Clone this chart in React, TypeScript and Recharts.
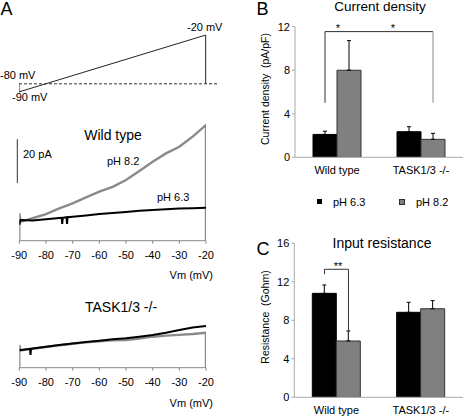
import React from "react";
import {
  LineChart,
  Line,
  BarChart,
  Bar,
  ErrorBar,
  XAxis,
  YAxis,
  ReferenceLine,
} from "recharts";

// voltage protocol (holding -80, step to -90, ramp to -20, back to -80)
const protoTime = [-90, -90, -20, -20];
const protoVolt = [-80, -90, -20, -80];

// wild type ramp currents (pA) vs Vm (mV)
const wtPh82Vm = [-90, -90, -89.5, -85, -80, -75, -70, -65, -60, -55, -50, -45, -40, -35, -30, -25, -20, -20];
const wtPh82 = [0, 12.5, 8.6, 10.2, 12.1, 14.7, 17.0, 19.7, 22.3, 24.5, 27.6, 31.7, 35.9, 39.7, 42.7, 47.3, 52.6, 0];
const wtPh63Vm = [-90, -89.6, -85, -80, -75, -74.1, -73.9, -73.7, -72.3, -72.1, -71.9, -70, -65, -60, -55, -50, -45, -40, -35, -30, -25, -20];
const wtPh63 = [7.2, 9.4, 9.2, 9.7, 10.3, 10.4, 7.6, 10.4, 10.7, 7.6, 10.7, 10.9, 11.5, 12.1, 12.6, 13.1, 13.6, 14.0, 14.3, 14.6, 14.8, 15.0];

// TASK1/3 -/- ramp currents
const taskPh82Vm = [-90, -90, -89.5, -85, -80, -75, -70, -65, -60, -55, -50, -45, -40, -35, -30, -25, -20, -20];
const taskPh82 = [0, 10.3, 7.9, 8.6, 9.4, 10.2, 10.9, 11.5, 12.0, 12.4, 12.6, 13.3, 14.1, 14.6, 14.9, 15.3, 15.9, 0];
const taskPh63Vm = [-90, -86, -85.8, -85.6, -85, -80, -75, -70, -65, -60, -55, -50, -45, -40, -35, -30, -25, -20];
const taskPh63 = [7.9, 8.6, 5.8, 8.6, 8.7, 9.5, 10.3, 11.0, 11.7, 12.3, 12.9, 13.4, 14.1, 14.9, 15.9, 17.1, 18.3, 19.0];

const vmTicks = [-90, -80, -70, -60, -50, -40, -30, -20];

// bar panels
const groups = ["Wild type", "TASK1/3 -/-"];
const seriesNames = ["pH 6.3", "pH 8.2"];
const densityPh63 = [2.1, 2.35];
const densityPh63Err = [0.3, 0.46];
const densityPh82 = [8.0, 1.65];
const densityPh82Err = [2.72, 0.55];
const resistPh63 = [10.8, 8.83];
const resistPh63Err = [0.87, 1.04];
const resistPh82 = [5.85, 9.2];
const resistPh82Err = [1.04, 0.84];
const densityTicks = [0, 4, 8, 12];
const resistTicks = [0, 4, 8, 12, 16];

const FONT = "'Liberation Sans', Arial, sans-serif";
const GREY = "#8a8a8a";
const BAR = 24;

const zip = (xs: number[], ys: number[]) => xs.map((vm, k) => ({ vm, i: ys[k] }));

const barTable = (a: number[], ae: number[], b: number[], be: number[]) =>
  groups.map((name, k) => ({
    name,
    ph63: a[k],
    ph63Err: [0, ae[k]],
    ph82: b[k],
    ph82Err: [0, be[k]],
  }));

// significance bracket from a reference segment: leg at one bar, across the top, leg at the other
const bracket = (dx1: number, dx2: number, stroke = "#333") => (p: any) => {
  const top = Math.min(p.y1, p.y2);
  const a = p.x1 + dx1;
  const b = p.x2 + dx2;
  return (
    <path
      d={`M${a},${p.y1} L${a},${top} L${b},${top} L${b},${p.y2}`}
      stroke={stroke}
      strokeWidth={1}
      fill="none"
    />
  );
};

function Txt({ x, y, size = 11, anchor = "start", lh = 1, children }: any) {
  const tx = anchor === "middle" ? "-50%" : anchor === "end" ? "-100%" : "0";
  return (
    <div
      style={{
        position: "absolute",
        left: x,
        top: y,
        fontSize: size,
        lineHeight: lh,
        color: "#000",
        whiteSpace: "nowrap",
        transform: `translate(${tx}, -50%)`,
      }}
    >
      {children}
    </div>
  );
}

function VLabel({ x, y, children }: any) {
  return (
    <div
      style={{
        position: "absolute",
        left: x,
        top: y,
        fontSize: 10.5,
        lineHeight: 1,
        color: "#000",
        whiteSpace: "pre",
        transform: "translate(-50%, -50%) rotate(-90deg)",
      }}
    >
      {children}
    </div>
  );
}

function Box({ x, y, children }: any) {
  return <div style={{ position: "absolute", left: x, top: y }}>{children}</div>;
}

const traceAxis = {
  type: "number" as const,
  dataKey: "vm",
  domain: [-90, -20],
  ticks: vmTicks,
  interval: 0,
  allowDataOverflow: true,
  tick: { fontSize: 11, fill: "#000" },
  stroke: "#888",
  tickSize: 3,
  tickMargin: 7,
  height: 25,
};

const barXAxis = {
  dataKey: "name",
  tick: { fontSize: 11, fill: "#000" },
  tickLine: false,
  stroke: "#aaa",
  tickSize: 6,
  tickMargin: 3,
};

export default function App() {
  const density = barTable(densityPh63, densityPh63Err, densityPh82, densityPh82Err);
  const resist = barTable(resistPh63, resistPh63Err, resistPh82, resistPh82Err);

  return (
    <div
      style={{
        position: "absolute",
        left: 0,
        top: 0,
        width: 464,
        height: 416,
        background: "#fff",
        fontFamily: FONT,
        color: "#000",
        overflow: "hidden",
      }}
    >
      {/* A: voltage protocol */}
      <Box x={0} y={20}>
        <LineChart width={240} height={90} data={zip(protoTime, protoVolt)} margin={{ top: 11, right: 21, bottom: 14, left: 19 }}>
          <XAxis type="number" dataKey="vm" domain={[-90, -15]} allowDataOverflow hide />
          <YAxis type="number" domain={[-95, -15]} allowDataOverflow hide />
          <ReferenceLine y={-80} stroke="#333" strokeDasharray="3 2" />
          <Line dataKey="i" stroke="#222" strokeWidth={1} dot={false} isAnimationActive={false} />
        </LineChart>
      </Box>

      {/* A: wild type ramp */}
      <Box x={0} y={110}>
        <LineChart width={240} height={160} margin={{ top: 9.7, right: 34, bottom: 4.3, left: 19.3 }}>
          <XAxis {...traceAxis} />
          <YAxis type="number" domain={[0, 55]} allowDataOverflow hide />
          <ReferenceLine
            segment={[{ x: -90.75, y: 26.2 }, { x: -90.75, y: 46.2 }]}
            ifOverflow="visible"
            stroke="#333"
          />
          <Line data={zip(wtPh82Vm, wtPh82)} dataKey="i" stroke={GREY} strokeWidth={2.4} dot={false} isAnimationActive={false} />
          <Line data={zip(wtPh63Vm, wtPh63)} dataKey="i" stroke="#000" strokeWidth={2} dot={false} isAnimationActive={false} />
        </LineChart>
      </Box>

      {/* A: TASK1/3 -/- ramp */}
      <Box x={0} y={290}>
        <LineChart width={240} height={126} margin={{ top: 22.7, right: 34, bottom: 23.3, left: 19.3 }}>
          <XAxis {...traceAxis} />
          <YAxis type="number" domain={[0, 25]} allowDataOverflow hide />
          <Line data={zip(taskPh82Vm, taskPh82)} dataKey="i" stroke={GREY} strokeWidth={2.4} dot={false} isAnimationActive={false} />
          <Line data={zip(taskPh63Vm, taskPh63)} dataKey="i" stroke="#000" strokeWidth={2} dot={false} isAnimationActive={false} />
        </LineChart>
      </Box>

      {/* B: current density */}
      <Box x={240} y={0}>
        <BarChart width={224} height={200} data={density} barSize={BAR} barGap={0} margin={{ top: 26.7, right: 1, bottom: 12.7, left: 0 }}>
          <XAxis {...barXAxis} height={30} />
          <YAxis
            width={55}
            domain={[0, 12]}
            ticks={densityTicks}
            interval={0}
            allowDataOverflow
            tick={{ fontSize: 11, fill: "#000" }}
            stroke="#aaa"
            tickSize={3}
            tickMargin={2}
          />
          <Bar dataKey="ph63" fill="#000" stroke="#000" isAnimationActive={false}>
            <ErrorBar dataKey="ph63Err" width={2} stroke="#000" strokeWidth={1} />
          </Bar>
          <Bar dataKey="ph82" fill="#808080" stroke="#333" isAnimationActive={false}>
            <ErrorBar dataKey="ph82Err" width={2} stroke="#000" strokeWidth={1} />
          </Bar>
          <ReferenceLine segment={[{ x: groups[0], y: 5 }, { x: groups[1], y: 11.55 }]} shape={bracket(-BAR / 2, BAR / 2)} />
          <ReferenceLine segment={[{ x: groups[1], y: 11.55 }, { x: groups[1], y: 5 }]} shape={bracket(BAR / 2, BAR / 2, "#888")} />
        </BarChart>
      </Box>

      {/* C: input resistance */}
      <Box x={240} y={230}>
        <BarChart width={224} height={186} data={resist} barSize={BAR} barGap={0} margin={{ top: 13.3, right: 1, bottom: 0, left: 0 }}>
          <XAxis {...barXAxis} height={18.7} />
          <YAxis
            width={54.3}
            domain={[0, 16]}
            ticks={resistTicks}
            interval={0}
            allowDataOverflow
            tick={{ fontSize: 11, fill: "#000" }}
            stroke="#aaa"
            tickSize={3}
            tickMargin={2}
          />
          <Bar dataKey="ph63" fill="#000" stroke="#000" isAnimationActive={false}>
            <ErrorBar dataKey="ph63Err" width={2} stroke="#000" strokeWidth={1} />
          </Bar>
          <Bar dataKey="ph82" fill="#808080" stroke="#333" isAnimationActive={false}>
            <ErrorBar dataKey="ph82Err" width={2} stroke="#000" strokeWidth={1} />
          </Bar>
          <ReferenceLine segment={[{ x: groups[0], y: 12.8 }, { x: groups[0], y: 13.3 }]} shape={bracket(-BAR / 2, -BAR / 2)} />
          <ReferenceLine segment={[{ x: groups[0], y: 13.3 }, { x: groups[0], y: 6.9 }]} shape={bracket(-BAR / 2, BAR / 2)} />
        </BarChart>
      </Box>

      {/* panel letters and annotations */}
      <Txt x={0.5} y={8.5} size={18}>A</Txt>
      <Txt x={0} y={75}>-80 mV</Txt>
      <Txt x={187} y={27}>-20 mV</Txt>
      <Txt x={12} y={97}>-90 mV</Txt>
      <Txt x={113} y={135} size={14} anchor="middle">Wild type</Txt>
      <Txt x={23} y={153.5}>20 pA</Txt>
      <Txt x={107} y={160.5}>pH 8.2</Txt>
      <Txt x={157} y={196.5}>pH 6.3</Txt>
      <Txt x={213} y={275} anchor="end">Vm (mV)</Txt>
      <Txt x={121} y={307} size={14} anchor="middle">TASK1/3 -/-</Txt>
      <Txt x={213} y={403} anchor="end">Vm (mV)</Txt>

      <Txt x={256.5} y={9} size={18}>B</Txt>
      <Txt x={380} y={7} size={13.5} anchor="middle">Current density</Txt>
      <Txt x={338} y={28.5} lh={0.3} anchor="middle">*</Txt>
      <Txt x={393} y={28.5} lh={0.3} anchor="middle">*</Txt>
      <VLabel x={265} y={89}>{"Current density  (pA/pF)"}</VLabel>

      {/* legend */}
      <div style={{ position: "absolute", left: 317, top: 199, width: 5, height: 5, background: "#000" }} />
      <Txt x={333} y={201.5}>{seriesNames[0]}</Txt>
      <div style={{ position: "absolute", left: 399, top: 199, width: 4, height: 4, background: "#808080", border: "1px solid #333" }} />
      <Txt x={416} y={201.5}>{seriesNames[1]}</Txt>

      <Txt x={256.5} y={248.5} size={18}>C</Txt>
      <Txt x={382} y={243} size={14} anchor="middle">Input resistance</Txt>
      <Txt x={338} y={267.3} lh={0.3} anchor="middle">**</Txt>
      <VLabel x={265} y={317}>{"Resistance  (Gohm)"}</VLabel>
    </div>
  );
}
